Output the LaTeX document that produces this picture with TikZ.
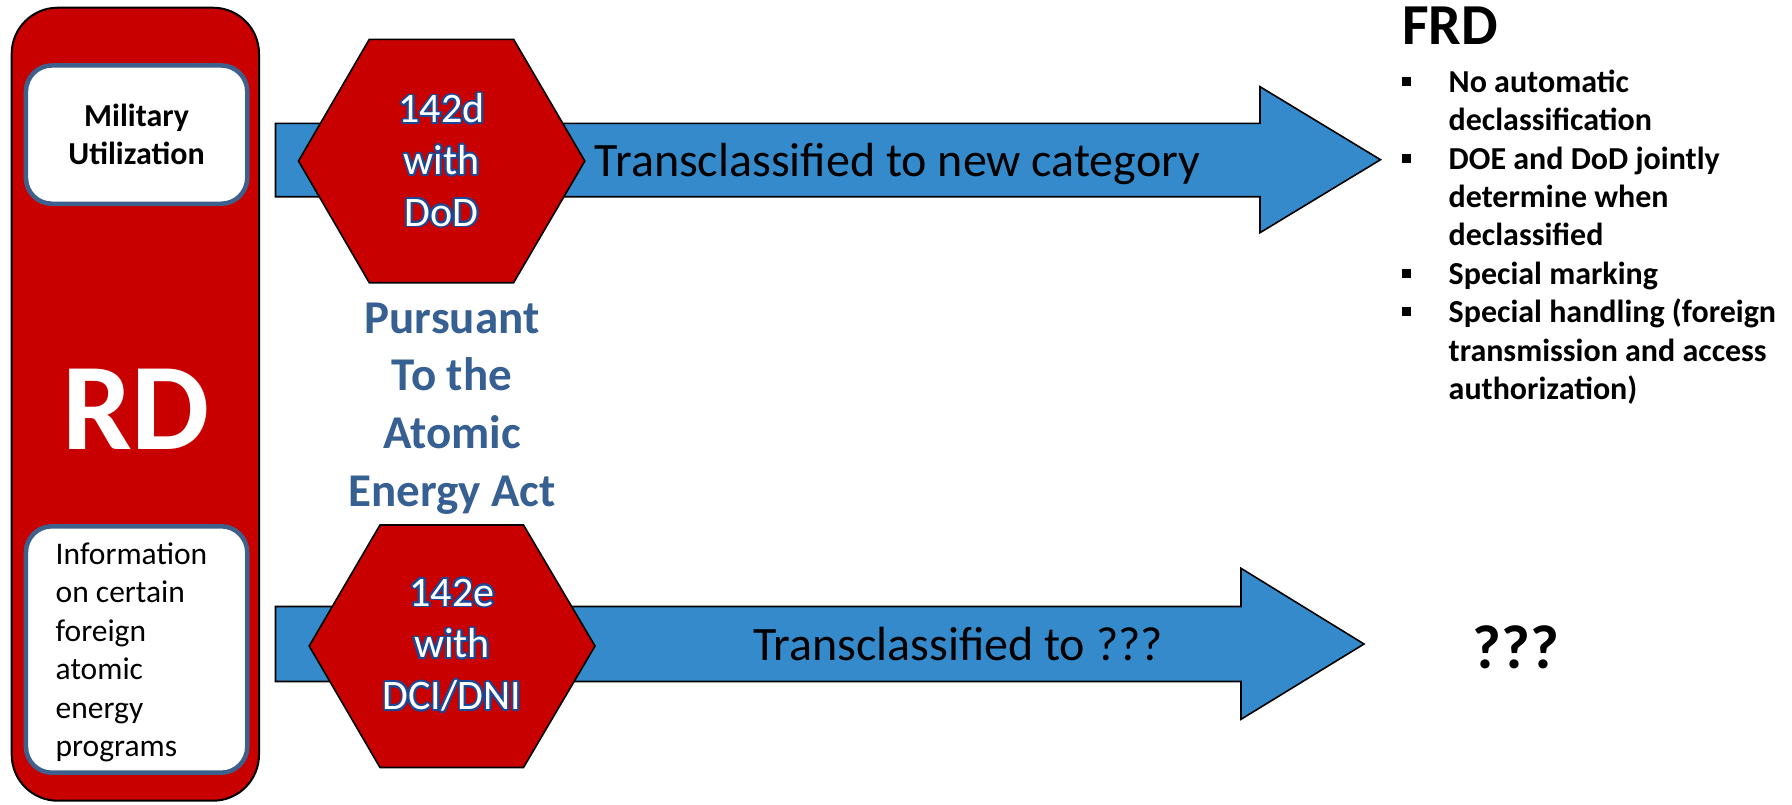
\documentclass[tikz,border=0pt]{standalone}
\usepackage{fontspec}
\setmainfont{Carlito}
\usepackage{contour}
\contourlength{1.7pt}
\contournumber{32}
\definecolor{rdred}{RGB}{200,0,0}
\definecolor{arrowblue}{RGB}{52,138,202}
\definecolor{boxborder}{RGB}{62,96,140}
\definecolor{actblue}{RGB}{55,96,146}
\definecolor{hexline}{RGB}{28,72,150}
\newcommand{\hextext}[1]{\contour{hexline}{\textcolor{white}{#1}}}
\newcommand{\sqbullet}{\makebox[46.5pt][l]{\raisebox{6.4pt}{\rule{9pt}{9pt}}}}
\newcommand{\bindent}{\hspace*{46.5pt}}
\tikzset{
  arrowshape/.style={fill=arrowblue, draw=black, line width=1.6pt, line join=miter},
  hexshape/.style={fill=rdred, draw=black, line width=1.6pt, line join=miter},
  hexlabel/.style={align=center, inner sep=0pt, font=\fontsize{42}{51.7}\selectfont},
  whitebox/.style={draw=boxborder, fill=white, line width=4.5pt, rounded corners=26pt,
    minimum width=221.3pt, inner sep=0pt},
  arrowlabel/.style={inner sep=0pt, font=\fontsize{48}{56}\selectfont, anchor=base},
}
\begin{document}
\begin{tikzpicture}[x=1pt,y=-1pt]
\useasboundingbox[fill=white] (0,0) rectangle (1792,804);

% RD column
\draw[fill=rdred, draw=black, line width=2pt, rounded corners=46pt] (11.7,7.7) rectangle (259,800.7);
\node[whitebox, minimum height=138.3pt, align=center,
  font=\bfseries\fontsize{32}{38.3}\selectfont] (mil) at (136.6,134.6) {Military\\Utilization};
\node[whitebox, minimum height=246.4pt] (info) at (136.6,649.5) {};
\node[anchor=base west, align=left, inner sep=0pt,
  font=\fontsize{31.5}{38.4}\selectfont] (infotext) at (55.5,756.5)
  {Information\\on certain\\foreign\\atomic\\energy\\programs};
\node[anchor=base, inner sep=0pt, text=white, font=\bfseries\fontsize{124}{130}\selectfont] (rd) at (136,449) {RD};

% arrows
\draw[arrowshape] (275.5,123.3) -- (1260,123.3) -- (1260,86.7) -- (1380.5,159.7)
  -- (1260,232.7) -- (1260,196.7) -- (275.5,196.7) -- cycle;
\draw[arrowshape] (275.5,606.5) -- (1241,606.5) -- (1241,568.3) -- (1364,644)
  -- (1241,719.3) -- (1241,681.5) -- (275.5,681.5) -- cycle;
\node[arrowlabel] (t1) at (897.5,176.7) {Transclassified to new category};
\node[arrowlabel] (t2) at (958,660.7) {Transclassified to ???};

% hexagons
\draw[hexshape] (298.5,161) -- (369.3,39.3) -- (513.6,39.3) -- (584.8,161)
  -- (513.6,282.7) -- (369.3,282.7) -- cycle;
\node[hexlabel] (h1) at (441.6,161) {\hextext{142d}\\\hextext{with}\\\hextext{DoD}};
\draw[hexshape] (309.2,646) -- (380,525) -- (523.5,525) -- (595,646)
  -- (523.5,767.5) -- (380,767.5) -- cycle;
\node[hexlabel] (h2) at (452,646) {\hextext{142e}\\\hextext{with}\\\hextext{DCI/DNI}};

% Pursuant text (anchor = baseline of last line)
\node[anchor=base, align=center, inner sep=0pt, text=actblue,
  font=\bfseries\fontsize{47}{57.6}\selectfont] (aea) at (452,506.1)
  {Pursuant\\To the\\Atomic\\Energy Act};

% FRD
\node[anchor=base west, inner sep=0pt, font=\bfseries\fontsize{58}{64}\selectfont] (frd) at (1402,44) {FRD};
\node[anchor=base west, align=left, inner sep=0pt, font=\bfseries\fontsize{32}{38.4}\selectfont] (frdlist) at (1402,399.5)
  {\sqbullet No automatic\\
   \bindent declassification\\
   \sqbullet DOE and DoD jointly\\
   \bindent determine when\\
   \bindent declassified\\
   \sqbullet Special marking\\
   \sqbullet Special handling (foreign\\
   \bindent transmission and access\\
   \bindent authorization)};
\node[anchor=base, inner sep=0pt, font=\bfseries\fontsize{62}{70}\selectfont] (qq) at (1516,668.3) {???};
\end{tikzpicture}
\end{document}
